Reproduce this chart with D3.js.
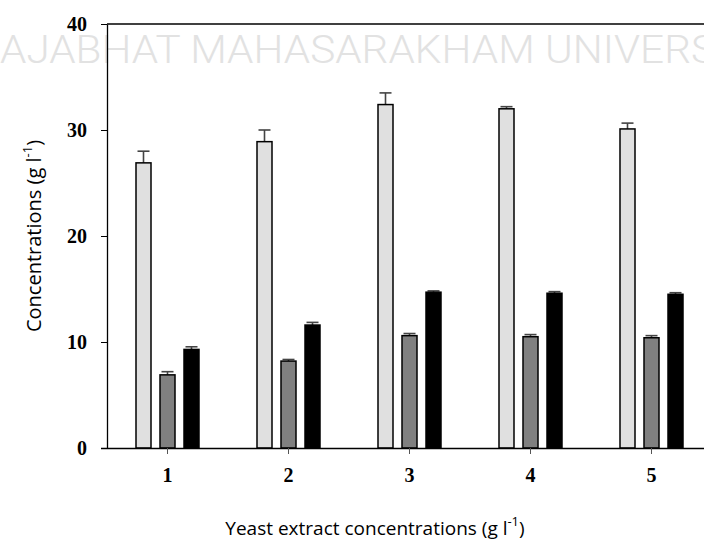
<!DOCTYPE html>
<html>
<head>
<meta charset="utf-8">
<script src="https://d3js.org/d3.v7.min.js"></script>
<style>
  body { margin: 0; background: #fff; }
  .tick text { font-family: "Liberation Serif", serif; font-weight: bold; font-size: 20px; fill: #000; }
  .axis-title { font-family: "Open Sans", "DejaVu Sans", sans-serif; font-size: 19px; fill: #000; }
</style>
</head>
<body>
<div id="chart"></div>
<script>
// data
var categories = ['1', '2', '3', '4', '5'];
var seriesNames = ['s1', 's2', 's3'];
var s1Values = [26.9, 28.9, 32.4, 32.0, 30.1];
var s1Errors = [1.1, 1.1, 1.1, 0.2, 0.55];
var s2Values = [6.9, 8.2, 10.6, 10.5, 10.4];
var s2Errors = [0.3, 0.15, 0.2, 0.2, 0.2];
var s3Values = [9.3, 11.6, 14.7, 14.6, 14.5];
var s3Errors = [0.25, 0.25, 0.12, 0.15, 0.15];
var yTicks = [0, 10, 20, 30, 40];
var seriesColors = ['#e0e0e0', '#808080', '#000000'];

var WIDTH = 704, HEIGHT = 544;
var MARGINS = { top: 24, left: 107, bottom: 96 };
var plotW = 605; // right edge runs past the window, as in the original
var plotH = HEIGHT - MARGINS.top - MARGINS.bottom;

var svg = d3.select('#chart').append('svg')
    .attr('width', WIDTH)
    .attr('height', HEIGHT);

// faint watermark behind the chart
svg.append('text')
    .attr('x', 0)
    .attr('y', 63)
    .attr('textLength', 716)
    .attr('lengthAdjust', 'spacingAndGlyphs')
    .style('font-family', 'Roboto, "Liberation Sans", sans-serif')
    .style('font-weight', 300)
    .style('font-size', '39px')
    .style('fill', '#e2e2e2')
    .text('AJABHAT MAHASARAKHAM UNIVERS');

var g = svg.append('g')
    .attr('transform', 'translate(' + MARGINS.left + ',' + MARGINS.top + ')');

var x = d3.scaleBand().domain(categories).range([0, plotW]);
var xInner = d3.scaleBand().domain(seriesNames)
    .range([x.bandwidth() / 2 - 31.5, x.bandwidth() / 2 + 31.5])
    .paddingInner(0.375);
var y = d3.scaleLinear().domain([0, 40]).range([plotH, 0]);

// build rows for drawing
var values = [s1Values, s2Values, s3Values];
var errors = [s1Errors, s2Errors, s3Errors];
var rows = [];
categories.forEach(function(c, i) {
    seriesNames.forEach(function(s, j) {
        rows.push({ cat: c, series: s, idx: j, value: values[j][i], err: errors[j][i] });
    });
});

// error bars (upper only)
var eb = g.append('g').selectAll('g').data(rows).enter().append('g')
    .attr('transform', function(d) { return 'translate(' + (x(d.cat) + xInner(d.series) + xInner.bandwidth() / 2) + ',0)'; });
eb.append('line')
    .attr('x1', 0).attr('x2', 0)
    .attr('y1', function(d) { return y(d.value); })
    .attr('y2', function(d) { return y(d.value + d.err); })
    .attr('stroke', '#444').attr('stroke-width', 1.6);
eb.append('line')
    .attr('x1', -6).attr('x2', 6)
    .attr('y1', function(d) { return y(d.value + d.err); })
    .attr('y2', function(d) { return y(d.value + d.err); })
    .attr('stroke', '#444').attr('stroke-width', 1.6);

// bars
g.append('g').selectAll('rect').data(rows).enter().append('rect')
    .attr('x', function(d) { return x(d.cat) + xInner(d.series); })
    .attr('y', function(d) { return y(d.value); })
    .attr('width', xInner.bandwidth())
    .attr('height', function(d) { return plotH - y(d.value); })
    .attr('fill', function(d) { return seriesColors[d.idx]; })
    .attr('stroke', '#000')
    .attr('stroke-width', 1.5);

// axes
var yAxis = g.append('g')
    .call(d3.axisLeft(y).tickValues(yTicks).tickSize(6).tickPadding(14).tickSizeOuter(0));
var xAxis = g.append('g')
    .attr('transform', 'translate(0,' + plotH + ')')
    .call(d3.axisBottom(x).tickSize(6).tickPadding(14).tickSizeOuter(0));
xAxis.select('.domain').attr('d', 'M-6,0.5H' + plotW);
xAxis.selectAll('.tick line').attr('stroke', '#555');
[xAxis, yAxis].forEach(function(a) {
    a.select('.domain').attr('stroke', '#000').attr('stroke-width', 1.3);
});

// top frame line
g.append('line')
    .attr('x1', 0).attr('x2', plotW)
    .attr('y1', y(40)).attr('y2', y(40))
    .attr('stroke', '#000').attr('stroke-width', 1.3);

// axis titles
var xt = svg.append('text')
    .attr('class', 'axis-title')
    .attr('x', 375).attr('y', 535)
    .attr('text-anchor', 'middle');
xt.append('tspan').text('Yeast extract concentrations (g l');
xt.append('tspan').attr('dy', -9).style('font-size', '13px').text('-1');
xt.append('tspan').attr('dy', 9).text(')');

var yt = svg.append('text')
    .attr('class', 'axis-title')
    .style('font-size', '20px')
    .attr('transform', 'translate(41,236) rotate(-90)')
    .attr('text-anchor', 'middle');
yt.append('tspan').text('Concentrations (g l');
yt.append('tspan').attr('dy', -9).style('font-size', '13px').text('-1');
yt.append('tspan').attr('dy', 9).text(')');
</script>
</body>
</html>
